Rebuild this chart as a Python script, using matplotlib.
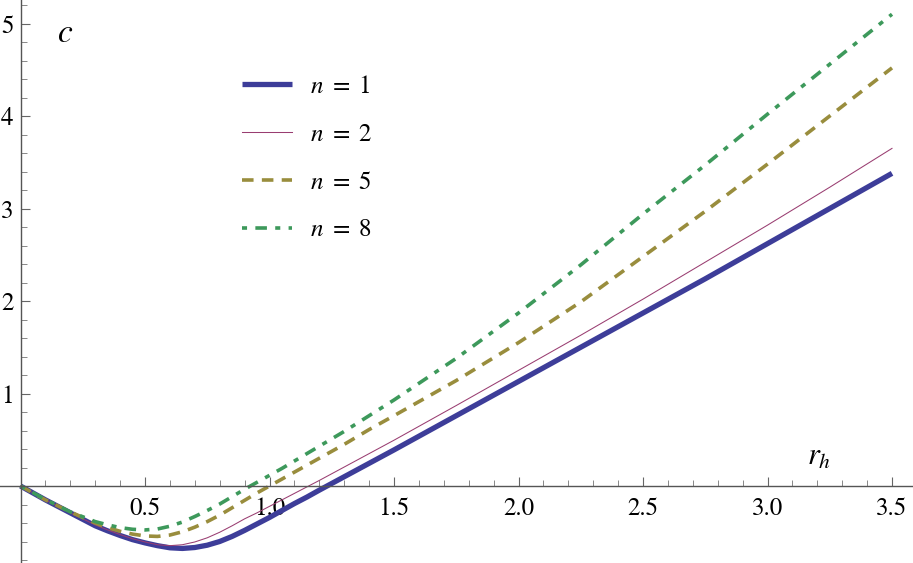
import matplotlib
matplotlib.use("Agg")
import matplotlib.pyplot as plt
from matplotlib.ticker import FixedLocator, FixedFormatter, NullFormatter

plt.rcParams['font.family'] = ['STIXGeneral', 'DejaVu Serif']
plt.rcParams['mathtext.fontset'] = 'stix'

# ---- data ----
x1 = [0, 0.1, 0.2, 0.3, 0.35, 0.4, 0.45, 0.5, 0.55, 0.6, 0.65, 0.7, 0.75, 0.8,
      0.85, 0.9, 0.95, 1.0, 1.05, 1.1, 1.15, 1.2, 1.3, 1.4, 1.5, 1.75, 2.0,
      2.25, 2.5, 2.75, 3.0, 3.25, 3.5]
y_n1 = [0, -0.15, -0.29, -0.43, -0.485, -0.535, -0.58, -0.615, -0.645, -0.668,
        -0.675, -0.665, -0.64, -0.60, -0.545, -0.48, -0.41, -0.34, -0.265, -0.19,
        -0.12, -0.045, 0.10, 0.245, 0.39, 0.76, 1.13, 1.50, 1.87, 2.24, 2.62,
        3.00, 3.38]
y_n2 = [0, -0.15, -0.29, -0.42, -0.475, -0.525, -0.57, -0.605, -0.635, -0.645,
        -0.635, -0.605, -0.56, -0.50, -0.43, -0.355, -0.29, -0.22, -0.15, -0.08,
        -0.01, 0.06, 0.205, 0.35, 0.495, 0.87, 1.25, 1.63, 2.02, 2.42, 2.82,
        3.23, 3.65]
y_n5 = [0, -0.15, -0.28, -0.40, -0.45, -0.49, -0.52, -0.54, -0.545, -0.53,
        -0.495, -0.445, -0.385, -0.315, -0.235, -0.155, -0.075, 0.0, 0.075,
        0.15, 0.225, 0.30, 0.45, 0.61, 0.76, 1.14, 1.55, 1.99, 2.48, 2.97, 3.48,
        4.00, 4.52]
y_n8 = [0, -0.145, -0.28, -0.385, -0.42, -0.45, -0.468, -0.475, -0.465, -0.435,
        -0.39, -0.33, -0.265, -0.195, -0.115, -0.035, 0.04, 0.115, 0.19, 0.27,
        0.35, 0.43, 0.59, 0.76, 0.93, 1.38, 1.87, 2.39, 2.94, 3.47, 4.02, 4.56,
        5.10]
labels = [r"$n\ =\ 1$", r"$n\ =\ 2$", r"$n\ =\ 5$", r"$n\ =\ 8$"]

x_major = [0.5, 1.0, 1.5, 2.0, 2.5, 3.0, 3.5]
x_major_labels = ["0.5", "1.0", "1.5", "2.0", "2.5", "3.0", "3.5"]
y_major = [1, 2, 3, 4, 5]
y_major_labels = ["1", "2", "3", "4", "5"]
x_minor = [i / 10 for i in range(1, 36) if i % 5 != 0]
y_minor = [i / 5 for i in range(-4, 27) if i % 5 != 0]

W, H = 913, 563
fig = plt.figure(figsize=(W / 100, H / 100), dpi=100)
ax = fig.add_axes([0, 0, 1, 1])

x0px, xs = 20.5, 249.0
y0px, ys = 486.0, 92.5
ax.set_xlim(-x0px / xs, (W - x0px) / xs)
ax.set_ylim(-(H - y0px) / ys, y0px / ys)

c1 = (0.24, 0.24, 0.6)
c2 = (0.6, 0.24, 0.442)
c5 = (0.6, 0.554, 0.24)
c8 = (0.24, 0.6, 0.358)

ax.plot(x1, y_n1, color=c1, lw=3.8, solid_capstyle='butt', solid_joinstyle='round', label=labels[0])
ax.plot(x1, y_n2, color=c2, lw=0.75, label=labels[1])
ax.plot(x1, y_n5, color=c5, lw=2.6, dashes=(3.2, 2.3), dash_capstyle='butt', label=labels[2])
ax.plot(x1, y_n8, color=c8, lw=2.6, dashes=(1.4, 2.3, 3.2, 2.3), dash_capstyle='butt', label=labels[3])

for s in ['top', 'right']:
    ax.spines[s].set_visible(False)
ax.spines['left'].set_position(('data', 0))
ax.spines['bottom'].set_position(('data', 0))
for s in ['left', 'bottom']:
    ax.spines[s].set_color('#555555')
    ax.spines[s].set_linewidth(1.0)

ax.xaxis.set_major_locator(FixedLocator(x_major))
ax.xaxis.set_major_formatter(FixedFormatter(x_major_labels))
ax.xaxis.set_minor_locator(FixedLocator(x_minor))
ax.xaxis.set_minor_formatter(NullFormatter())
ax.yaxis.set_major_locator(FixedLocator(y_major))
ax.yaxis.set_major_formatter(FixedFormatter(y_major_labels))
ax.yaxis.set_minor_locator(FixedLocator(y_minor))
ax.yaxis.set_minor_formatter(NullFormatter())

ax.tick_params(axis='both', which='major', direction='in', length=6.5, width=0.8,
               color='#666666', labelsize=18, labelcolor='black')
ax.tick_params(axis='both', which='minor', direction='in', length=4.0, width=0.7,
               color='#888888')
ax.tick_params(axis='x', which='major', pad=8)
ax.tick_params(axis='y', which='major', pad=5)

ax.text(65 / W, 1 - 34 / H, r"$c$", transform=fig.transFigure, fontsize=24,
        ha='center', va='center')
ax.text(819 / W, 1 - 458 / H, r"$r_h$", transform=fig.transFigure, fontsize=22,
        ha='center', va='center')

leg = ax.legend(loc='upper left', bbox_to_anchor=(242 / W, 1 - 75 / H),
                bbox_transform=fig.transFigure, frameon=False, fontsize=18,
                handlelength=2.0, handletextpad=0.7, labelspacing=0.95,
                borderpad=0, borderaxespad=0)

fig.savefig("out.png", dpi=100)
